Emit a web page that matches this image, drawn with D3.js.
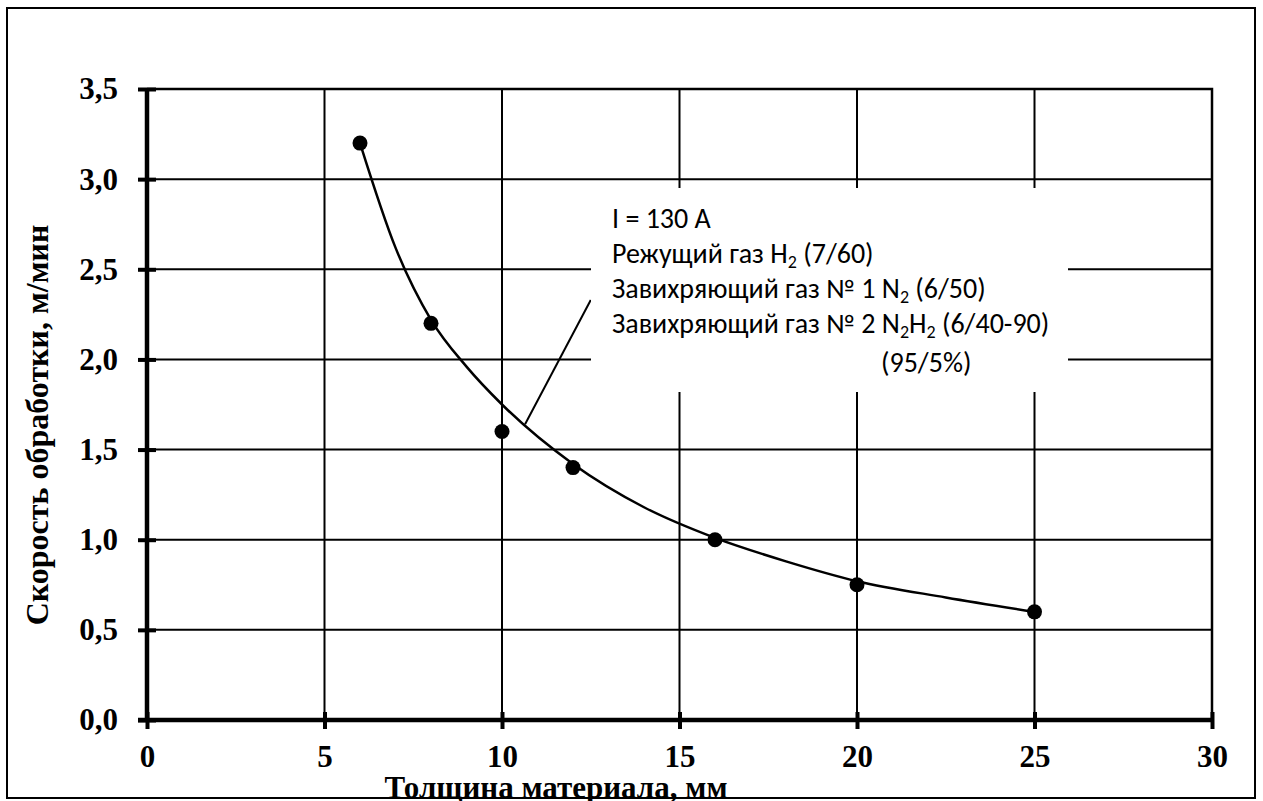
<!DOCTYPE html>
<html>
<head>
<meta charset="utf-8">
<script src="https://cdn.jsdelivr.net/npm/d3@7"></script>
<style>
  body { margin: 0; background: #fff; }
  svg { display: block; }
</style>
</head>
<body>
<div id="container"></div>
<script>
// measured points
const thickness = [6, 8, 10, 12, 16, 20, 25];
const speed = [3.2, 2.2, 1.6, 1.4, 1.0, 0.75, 0.6];

// trend curve
const curveX = [6, 7, 8, 9, 10, 12, 14, 16, 18, 20, 22.5, 25];
const curveY = [3.2, 2.62, 2.22, 1.96, 1.75, 1.42, 1.18, 1.01, 0.88, 0.77, 0.68, 0.6];

const xTicks = [0, 5, 10, 15, 20, 25, 30];
const yTicks = [0, 0.5, 1.0, 1.5, 2.0, 2.5, 3.0, 3.5];

// "_" marks a subscript piece
const noteLines = [
  ["I = 130 A"],
  ["Режущий газ H", "_2", " (7/60)"],
  ["Завихряющий газ № 1 N", "_2", " (6/50)"],
  ["Завихряющий газ № 2 N", "_2", "H", "_2", " (6/40-90)"],
];
const noteLast = "(95/5%)";

const W = 1263, H = 801;
const plot = { left: 147, right: 1212, top: 89, bottom: 720 };
const serif = "'Liberation Serif', 'Times New Roman', serif";

const x = d3.scaleLinear().domain([0, 30]).range([plot.left, plot.right]);
const y = d3.scaleLinear().domain([0, 3.5]).range([plot.bottom, plot.top]);

const svg = d3.select("#container").append("svg")
  .attr("width", W).attr("height", H);

svg.append("rect").attr("width", W).attr("height", H).attr("fill", "#fff");

// plot border (top and right)
svg.append("path")
  .attr("d", `M${plot.left},${plot.top}H${plot.right}V${plot.bottom}`)
  .attr("fill", "none").attr("stroke", "#000").attr("stroke-width", 2.5);

// grid
svg.append("g").selectAll("line").data(yTicks.slice(1, -1)).join("line")
  .attr("x1", plot.left).attr("x2", plot.right)
  .attr("y1", (d) => y(d)).attr("y2", (d) => y(d))
  .attr("stroke", "#000").attr("stroke-width", 2);
svg.append("g").selectAll("line").data(xTicks.slice(1, -1)).join("line")
  .attr("y1", plot.top).attr("y2", plot.bottom)
  .attr("x1", (d) => x(d)).attr("x2", (d) => x(d))
  .attr("stroke", "#000").attr("stroke-width", 2);

// axes
const fmt = (d) => d3.format(".1f")(d).replace(".", ",");
const xAxis = svg.append("g").attr("transform", `translate(0,${plot.bottom})`)
  .call(d3.axisBottom(x).tickValues(xTicks).tickSize(0).tickPadding(25));
const yAxis = svg.append("g").attr("transform", `translate(${plot.left},0)`)
  .call(d3.axisLeft(y).tickValues(yTicks).tickFormat(fmt).tickSize(0).tickPadding(29));

[xAxis, yAxis].forEach((g) => {
  g.attr("font-family", serif);
  g.select(".domain").attr("stroke", "#000").attr("stroke-width", 4.5);
  g.selectAll("text").attr("font-weight", "bold").attr("font-size", 31).attr("fill", "#000");
});
xAxis.select(".domain").attr("d", `M${plot.left - 9},0H${plot.right}`);
yAxis.select(".domain").attr("d", `M0,${plot.top}V${plot.bottom}`);

// cross ticks
xAxis.selectAll(".tick").append("line")
  .attr("y1", -8).attr("y2", 9).attr("stroke", "#000").attr("stroke-width", 4);
yAxis.selectAll(".tick").append("line")
  .attr("x1", -9).attr("x2", 9).attr("stroke", "#000").attr("stroke-width", 4);

// axis titles
svg.append("text")
  .attr("x", 556).attr("y", 798)
  .attr("text-anchor", "middle")
  .attr("font-family", serif)
  .attr("font-weight", "bold").attr("font-size", 31)
  .text("Толщина материала, мм");
svg.append("text")
  .attr("transform", "translate(48,425) rotate(-90)")
  .attr("text-anchor", "middle")
  .attr("font-family", serif)
  .attr("font-weight", "bold").attr("font-size", 32)
  .text("Скорость обработки, м/мин");

// outer frame
svg.append("rect")
  .attr("x", 7).attr("y", 8).attr("width", 1248).attr("height", 790)
  .attr("fill", "none").attr("stroke", "#000").attr("stroke-width", 2);

// curve
const curvePts = curveX.map((v, i) => [v, curveY[i]]);
svg.append("path")
  .datum(curvePts)
  .attr("fill", "none").attr("stroke", "#000").attr("stroke-width", 2.5)
  .attr("d", d3.line().x((d) => x(d[0])).y((d) => y(d[1])).curve(d3.curveMonotoneX));

// leader line
svg.append("line")
  .attr("x1", x(10.65)).attr("y1", y(1.64))
  .attr("x2", x(12.5)).attr("y2", y(2.33))
  .attr("stroke", "#000").attr("stroke-width", 2);

// annotation box
svg.append("rect")
  .attr("x", 591).attr("y", 188).attr("width", 477).attr("height", 204)
  .attr("fill", "#fff");

const note = svg.append("g")
  .attr("font-family", "Carlito, Lato, 'Open Sans', sans-serif")
  .attr("font-size", 28).attr("fill", "#000");
noteLines.forEach((parts, i) => {
  const t = note.append("text").attr("x", 612).attr("y", 228 + i * 35);
  let shifted = 0;
  parts.forEach((p) => {
    const sub = p.startsWith("_");
    const want = sub ? 5 : 0;
    t.append("tspan")
      .attr("font-size", sub ? 18 : 28)
      .attr("dy", want - shifted)
      .text(sub ? p.slice(1) : p);
    shifted = want;
  });
});
note.append("text").attr("x", 881).attr("y", 372).text(noteLast);

// points
svg.append("g").selectAll("circle")
  .data(thickness.map((v, i) => [v, speed[i]]))
  .join("circle")
  .attr("cx", (d) => x(d[0])).attr("cy", (d) => y(d[1]))
  .attr("r", 7.5).attr("fill", "#000");
</script>
</body>
</html>
